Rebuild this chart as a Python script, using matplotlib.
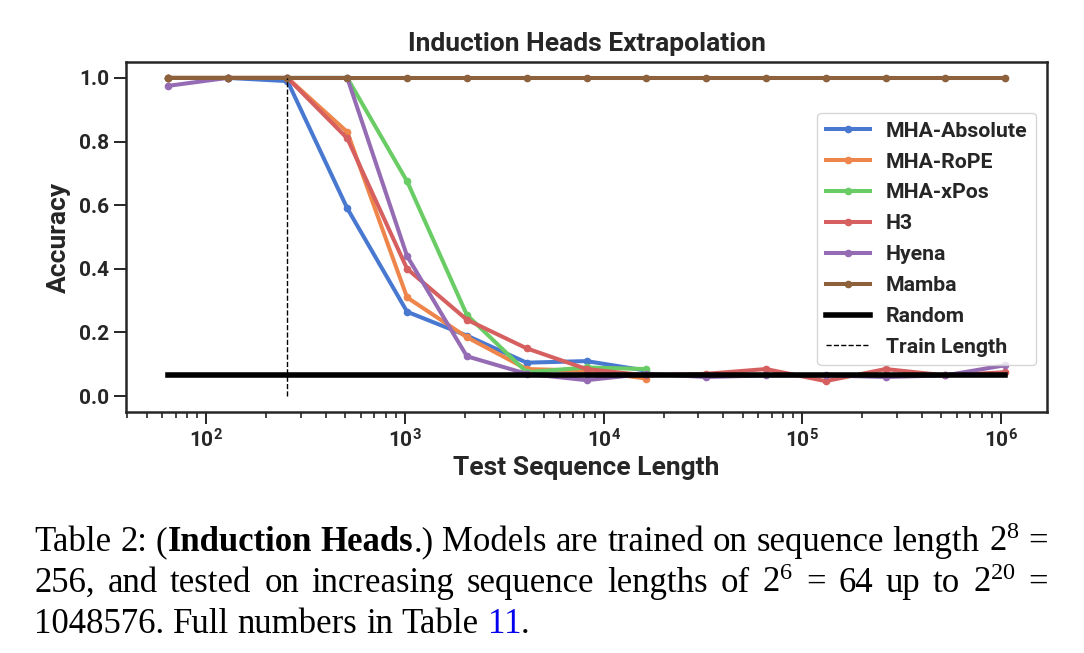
import re
import numpy as np
import matplotlib
matplotlib.use('Agg')
import matplotlib.pyplot as plt

# sequence lengths 2^6 .. 2^20
lengths = [64, 128, 256, 512, 1024, 2048, 4096, 8192, 16384,
           32768, 65536, 131072, 262144, 524288, 1048576]

# accuracies (MHA models stop at 2^14)
mha_absolute = [1.0, 1.0, 0.99, 0.59, 0.265, 0.19, 0.105, 0.11, 0.08]
mha_rope = [1.0, 1.0, 1.0, 0.83, 0.31, 0.185, 0.085, 0.08, 0.055]
mha_xpos = [1.0, 1.0, 1.0, 1.0, 0.675, 0.255, 0.075, 0.09, 0.085]
h3 = [1.0, 1.0, 1.0, 0.81, 0.40, 0.24, 0.15, 0.085, 0.065,
      0.07, 0.085, 0.047, 0.085, 0.065, 0.075]
hyena = [0.975, 1.0, 1.0, 1.0, 0.44, 0.125, 0.07, 0.05, 0.07,
         0.06, 0.065, 0.065, 0.06, 0.065, 0.097]
mamba = [1.0] * 15

random_acc = 0.066
train_length = 256

series_names = ['MHA-Absolute', 'MHA-RoPE', 'MHA-xPos', 'H3', 'Hyena', 'Mamba']
series_values = [mha_absolute, mha_rope, mha_xpos, h3, hyena, mamba]
colors = ['#4878D0', '#EE854A', '#6ACC64', '#D65F5F', '#956CB4', '#8C613C']

caption = [
    'Table 2: (**Induction Heads**.) Models are trained on sequence length $\\mathdefault{2^{8}}$ =',
    '256, and tested on increasing sequence lengths of $\\mathdefault{2^{6}}$ = 64 up to $\\mathdefault{2^{20}}$ =',
    '1048576. Full numbers in Table ##11##.',
]

plt.rcParams['font.family'] = ['Roboto', 'DejaVu Sans']
plt.rcParams['text.color'] = '#262626'
plt.rcParams['axes.labelcolor'] = '#262626'
plt.rcParams['xtick.color'] = '#262626'
plt.rcParams['ytick.color'] = '#262626'

W, H = 1084, 653
fig = plt.figure(figsize=(W / 100, H / 100), dpi=100)
ax = fig.add_axes([126 / W, 1 - 412 / H, 921 / W, 350 / H])

for name, vals, c in zip(series_names, series_values, colors):
    ax.plot(lengths[:len(vals)], vals, color=c, lw=2.9, marker='o', ms=4.5, label=name)
ax.plot([lengths[0], lengths[-1]], [random_acc, random_acc], color='black', lw=4, label='Random')
ax.plot([train_length, train_length], [0, 1], color='black', lw=1.0, ls='--', label='Train Length')

ax.set_xscale('log')
ax.margins(x=0.05, y=0.05)
ax.set_yticks([0.0, 0.2, 0.4, 0.6, 0.8, 1.0])
ax.set_title('Induction Heads Extrapolation', fontsize=19, fontweight='bold', pad=8)
ax.set_xlabel('Test Sequence Length', fontsize=19, fontweight='bold', labelpad=3)
ax.set_ylabel('Accuracy', fontsize=19, fontweight='bold', labelpad=6)
for s in ax.spines.values():
    s.set_linewidth(1.8)
    s.set_color('#262626')
ax.tick_params(which='major', length=8.5, width=1.4, labelsize=15)
ax.tick_params(which='minor', length=4.5, width=1.2)
for lab in ax.get_xticklabels() + ax.get_yticklabels():
    lab.set_fontweight('bold')

leg = ax.legend(loc='upper right', bbox_to_anchor=(0.988, 0.854), borderaxespad=0,
                handlelength=2.07, handletextpad=0.75, labelspacing=0.56, borderpad=0.4,
                prop={'weight': 'bold', 'size': 15.3})
for t in leg.get_texts():
    t.set_color('#262626')

# caption below the chart, justified like the paper
cap_size = 25
renderer = fig.canvas.get_renderer()


def caption_line(text, y_px, x0, x1, justify):
    bold = False
    blue = False
    words = []
    for word in text.split(' '):
        pieces = []
        for part in re.split(r'(\*\*|##)', word):
            if part == '**':
                bold = not bold
                continue
            if part == '##':
                blue = not blue
                continue
            if part == '':
                continue
            t = fig.text(0, 0, part, fontsize=cap_size, family='Liberation Serif',
                         weight='bold' if bold else 'normal',
                         color='#0000ee' if blue else 'black', va='baseline')
            pieces.append((t, t.get_window_extent(renderer).width))
        words.append(pieces)
    widths = [sum(w for _, w in p) for p in words]
    if justify:
        gap = (x1 - x0 - sum(widths)) / (len(words) - 1)
    else:
        gap = cap_size * 100 / 72 * 0.25
    x = x0
    for pieces in words:
        for t, w in pieces:
            t.set_position((x / W, 1 - y_px / H))
            x += w
        x += gap


caption_line(caption[0], 551, 34, 1048, True)
caption_line(caption[1], 592, 34, 1048, True)
caption_line(caption[2], 633, 34, 1048, False)

fig.savefig('out.png', dpi=100)
